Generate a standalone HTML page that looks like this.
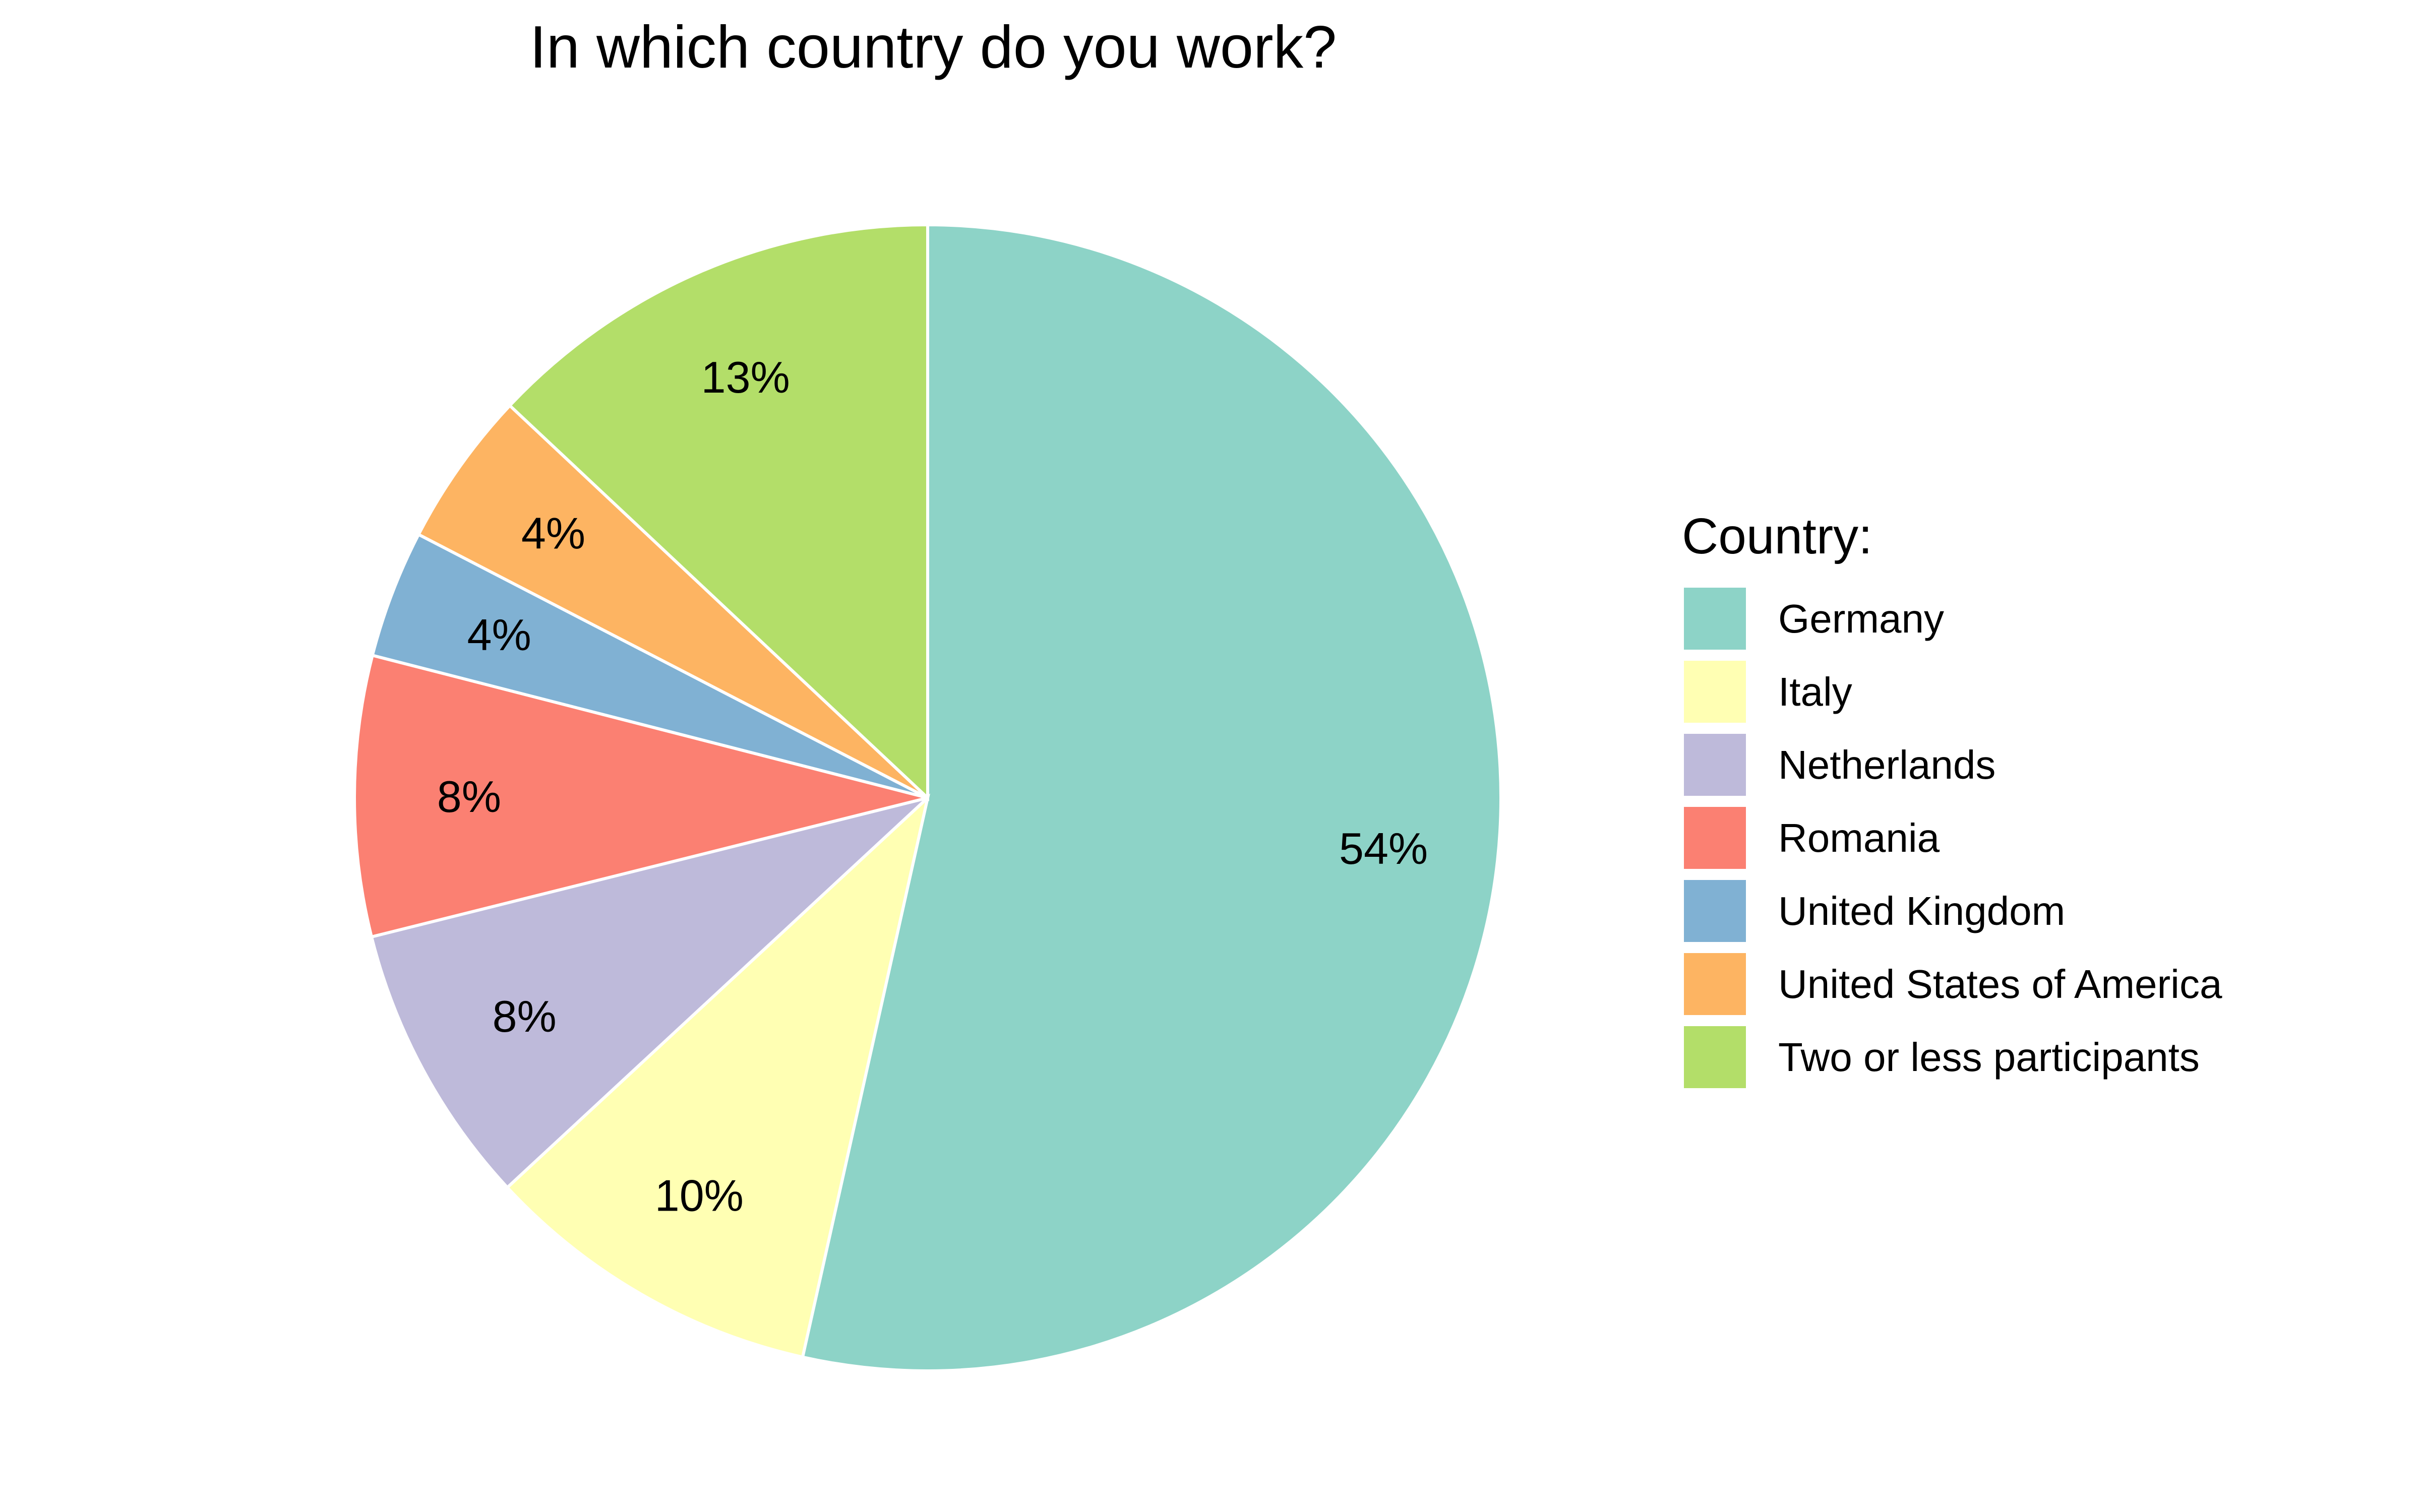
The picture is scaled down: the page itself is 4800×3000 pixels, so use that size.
<!DOCTYPE html>
<html><head><meta charset="utf-8"><style>
html,body{margin:0;padding:0;background:#fff;}
svg{display:block;font-family:"Liberation Sans",Arial,sans-serif;}
</style></head><body>
<svg id="chart" width="4800" height="3000" viewBox="0 0 4800 3000" xmlns="http://www.w3.org/2000/svg">
<rect width="4800" height="3000" fill="#fff"/>
<text x="1851" y="134" font-size="119" text-anchor="middle" fill="#000">In which country do you work?</text>
<g id="slices"></g>
<g id="labels"></g>
<g id="legend">
<text x="3336" y="1098" font-size="100" fill="#000">Country:</text>
</g>
</svg>
<script>
const categories = ["Germany","Italy","Netherlands","Romania","United Kingdom","United States of America","Two or less participants"];
const values = [53.5, 9.6, 8.0, 7.9, 3.6, 4.4, 13.0];
const colors = ["#8DD3C7","#FFFFB3","#BEBADA","#FB8072","#80B1D3","#FDB462","#B3DE69"];
const NS = "http://www.w3.org/2000/svg";
const cx = 1840, cy = 1583, r = 1137;
const total = values.reduce((a,b)=>a+b,0);
function pt(frac, rad){ const a = frac*2*Math.PI; return [cx + rad*Math.sin(a), cy - rad*Math.cos(a)]; }
const sg = document.getElementById('slices');
const lg = document.getElementById('labels');
const leg = document.getElementById('legend');
let acc = 0;
values.forEach((v,i)=>{
  const f0 = acc/total, f1 = (acc+v)/total; acc += v;
  const [x0,y0] = pt(f0,r), [x1,y1] = pt(f1,r);
  const large = (f1-f0) > 0.5 ? 1 : 0;
  const p = document.createElementNS(NS,'path');
  p.setAttribute('d',`M${cx},${cy} L${x0},${y0} A${r},${r} 0 ${large} 1 ${x1},${y1} Z`);
  p.setAttribute('fill',colors[i]);
  p.setAttribute('stroke','#fff');
  p.setAttribute('stroke-width','6');
  
  
  sg.appendChild(p);
  const [lx,ly] = pt((f0+f1)/2, r*0.8);
  const t = document.createElementNS(NS,'text');
  t.setAttribute('x',lx); t.setAttribute('y',ly+31);
  t.setAttribute('font-size','88'); t.setAttribute('text-anchor','middle');
  t.textContent = Math.round(v/total*100)+'%';
  
  
  lg.appendChild(t);
  const ky = 1166 + i*145;
  const rc = document.createElementNS(NS,'rect');
  rc.setAttribute('x',3340); rc.setAttribute('y',ky); rc.setAttribute('width',123); rc.setAttribute('height',123);
  rc.setAttribute('fill',colors[i]);
  
  
  leg.appendChild(rc);
  const lt = document.createElementNS(NS,'text');
  lt.setAttribute('x',3527); lt.setAttribute('y',ky+89);
  lt.setAttribute('font-size','80');
  lt.textContent = categories[i];
  
  
  leg.appendChild(lt);
});
</script>
</body></html>
